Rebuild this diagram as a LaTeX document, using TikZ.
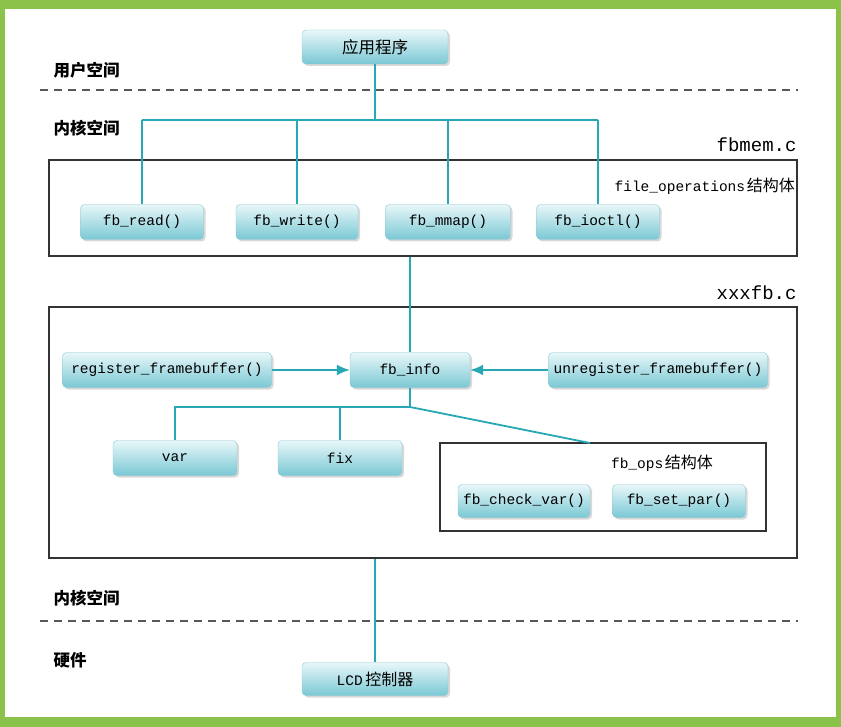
\documentclass[tikz,border=0pt]{standalone}
\usepackage{fontspec}
\setmainfont{Liberation Serif}
\newfontfamily\mono{Liberation Mono}
\newfontfamily\cjk{Noto Sans CJK SC}
\usetikzlibrary{arrows.meta,shadows}
\definecolor{frameGreen}{RGB}{139,195,74}
\definecolor{wireC}{RGB}{40,168,180}
\definecolor{boxTop}{RGB}{232,247,249}
\definecolor{boxBot}{RGB}{122,200,212}
\definecolor{boxEdge}{RGB}{140,200,210}
\tikzset{
  fbox/.style={rounded corners=4pt, draw=boxEdge, top color=boxTop, bottom color=boxBot,
    drop shadow={opacity=0.3, shadow xshift=2pt, shadow yshift=-2pt},
    minimum height=35pt, inner sep=0pt, font=\mono\fontsize{14.5}{16}\selectfont},
  container/.style={draw=black!80, line width=1.1pt, inner sep=0pt},
  wire/.style={draw=wireC, line width=1.8pt},
  arr/.style={wire, -{Latex[length=13pt,width=11pt]}},
  sect/.style={anchor=west, font=\cjk\bfseries\fontsize{16.5}{18}\selectfont},
  divider/.style={draw=black!65, line width=1.8pt, dash pattern=on 8pt off 6pt},
}
\begin{document}
\begin{tikzpicture}[x=1pt,y=-1pt]
\useasboundingbox (0,0) rectangle (841,727);
\fill[frameGreen] (0,0) rectangle (841,727);
\fill[white] (5,9) rectangle (836,717);

% containers
\node[container, minimum width=748pt, minimum height=96pt] (fbmem) at (423,208) {};
\node[container, minimum width=748pt, minimum height=251pt] (xxxfb) at (423,432.5) {};
\node[container, minimum width=326pt, minimum height=88pt] (fbops) at (603,487) {};

% labels
\node[sect] (us) at (50,70) {用户空间};
\node[sect] (ks1) at (50,128) {内核空间};
\node[sect] (ks2) at (50,598) {内核空间};
\node[sect] (hw) at (50,660) {硬件};
\node[anchor=east, font=\mono\fontsize{19}{20}\selectfont] (fbmemlbl) at (800,145) {fbmem.c};
\node[anchor=east, font=\mono\fontsize{19}{20}\selectfont] (xxxlbl) at (800,293) {xxxfb.c};
\node[anchor=east, inner sep=0pt] (folbl) at (795,186) {{\mono\fontsize{14.5}{16}\selectfont file\_operations}\,{\cjk\fontsize{16}{18}\selectfont 结构体}};
\node[inner sep=0pt] (opslbl) at (662,463) {{\mono\fontsize{14.5}{16}\selectfont fb\_ops}\,{\cjk\fontsize{16}{18}\selectfont 结构体}};

% dividers
\coordinate (d1a) at (40,90); \coordinate (d1b) at (798,90);
\coordinate (d2a) at (40,621); \coordinate (d2b) at (798,621);
\draw[divider] (d1a) -- (d1b);
\draw[divider] (d2a) -- (d2b);

% boxes
\node[fbox, minimum width=146pt, minimum height=34pt, font=\cjk\fontsize{16.5}{18}\selectfont] (app) at (375,47) {应用程序};
\node[fbox, minimum width=123pt] (read) at (142,222) {fb\_read()};
\node[fbox, minimum width=122pt] (write) at (297,222) {fb\_write()};
\node[fbox, minimum width=125pt] (mmap) at (448,222) {fb\_mmap()};
\node[fbox, minimum width=123pt] (ioctl) at (598,222) {fb\_ioctl()};
\node[fbox, minimum width=209pt] (reg) at (167,370) {register\_framebuffer()};
\node[fbox, minimum width=120pt] (info) at (410,370) {fb\_info};
\node[fbox, minimum width=219pt] (unreg) at (658,370) {unregister\_framebuffer()};
\node[fbox, minimum width=124pt] (var) at (175,458) {var};
\node[fbox, minimum width=124pt] (fix) at (340,458) {fix};
\node[fbox, minimum width=132pt, minimum height=33pt] (check) at (524,501) {fb\_check\_var()};
\node[fbox, minimum width=133pt, minimum height=33pt] (setpar) at (679,501) {fb\_set\_par()};
\node[fbox, minimum width=146pt, minimum height=33pt] (lcd) at (375,679) {{\mono LCD}\,{\cjk\fontsize{16}{18}\selectfont 控制器}};

% connectors
\coordinate (j1) at (375,120);
\coordinate (j2) at (410,407);
\coordinate (opsin) at (590,443);
\draw[wire] (app.south) -- (j1);
\draw[wire] (read.north |- j1) -- (ioctl.north |- j1);
\draw[wire] (read.north |- j1) -- (read.north);
\draw[wire] (write.north |- j1) -- (write.north);
\draw[wire] (mmap.north |- j1) -- (mmap.north);
\draw[wire] (ioctl.north |- j1) -- (ioctl.north);
\draw[wire] (fbmem.south -| info.north) -- (info.north);
\draw[arr] (reg.east) -- (info.west);
\draw[arr] (unreg.west) -- (info.east);
\draw[wire] (info.south) -- (j2) -- (var.north |- j2) -- (var.north);
\draw[wire] (fix.north |- j2) -- (fix.north);
\draw[wire] (j2) -- (opsin);
\draw[wire] (xxxfb.south -| lcd.north) -- (lcd.north);
\end{tikzpicture}
\end{document}
